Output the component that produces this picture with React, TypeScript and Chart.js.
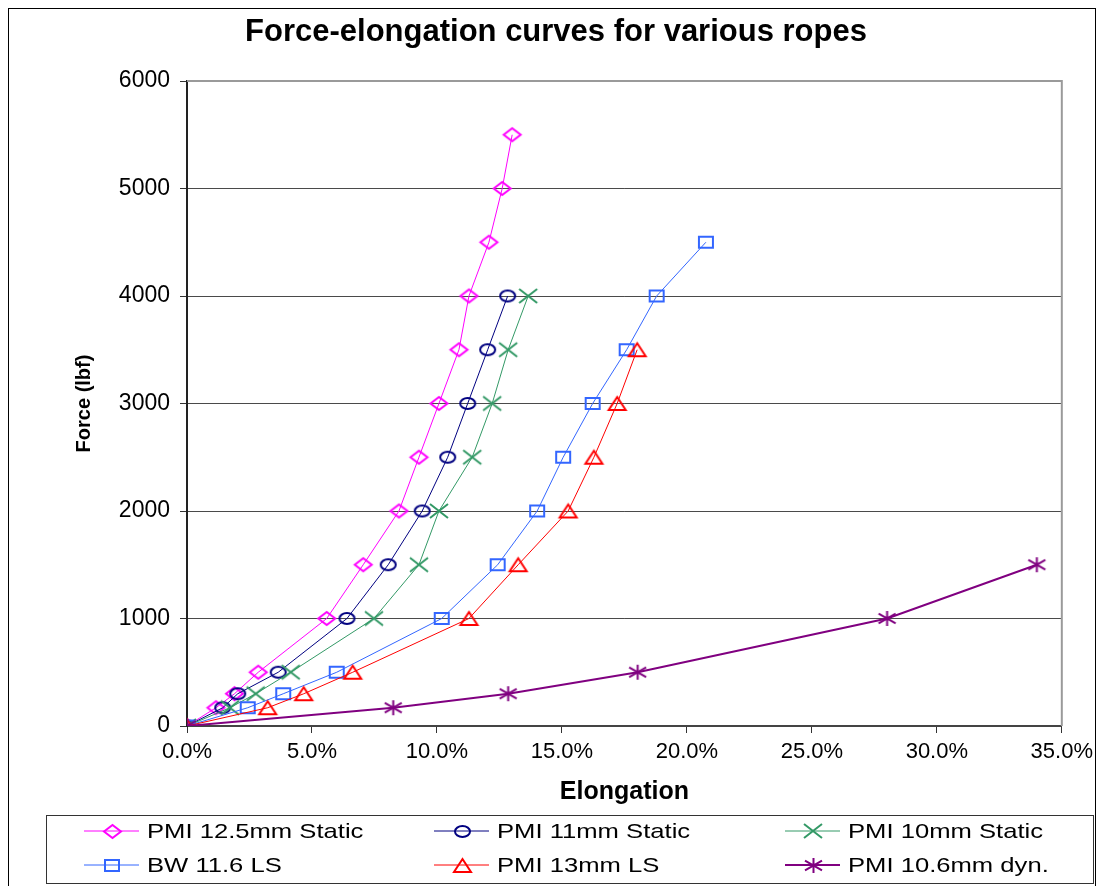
import React, { useEffect, useRef } from 'react';
import { Chart, registerables } from 'chart.js';

Chart.register(...registerables);

const FONT = '"Liberation Sans", Arial, sans-serif';

// Force levels (lbf) shared by all series
const forcesLbf = [0, 170, 300, 500, 1000, 1500, 2000, 2500, 3000, 3500, 4000, 4500, 5000, 5500];

// Elongation (%) for each rope at the force levels above
const pmi125StaticElong = [0, 1.16, 1.9, 2.85, 5.59, 7.05, 8.48, 9.28, 10.08, 10.88, 11.28, 12.08, 12.61, 13.01];
const pmi11StaticElong = [0, 1.43, 2.03, 3.65, 6.4, 8.05, 9.41, 10.43, 11.23, 12.03, 12.83];
const pmi10StaticElong = [0, 1.72, 2.75, 4.15, 7.48, 9.28, 10.08, 11.41, 12.21, 12.85, 13.65];
const bw116LsElong = [0, 2.43, 3.85, 5.99, 10.19, 12.43, 14.01, 15.05, 16.23, 17.59, 18.79, 20.76];
const pmi13LsElong = [0, 3.23, 4.67, 6.63, 11.28, 13.25, 15.25, 16.28, 17.21, 18.01];
const pmi106DynElong = [0, 8.25, 12.85, 18.03, 28.01, 34.0];

const seriesLabels = [
  'PMI 12.5mm Static',
  'PMI 11mm Static',
  'PMI 10mm Static',
  'BW 11.6 LS',
  'PMI 13mm LS',
  'PMI 10.6mm dyn.',
];
const seriesElong = [pmi125StaticElong, pmi11StaticElong, pmi10StaticElong, bw116LsElong, pmi13LsElong, pmi106DynElong];
const seriesColors = ['#FF00FF', '#000080', '#339966', '#3366FF', '#FF0000', '#800080'];
const seriesMarkers = ['diamond', 'ellipse', 'x', 'square', 'triangle', 'asterisk'];
const markerW = [19, 17, 18, 16, 19, 17];
const markerH = [15, 13, 14, 13, 15, 15];
const lineWidths = [1, 1, 1, 1, 1, 2];

const chartTitle = 'Force-elongation curves for various ropes';
const xTitle = 'Elongation';
const yTitle = 'Force (lbf)';

function makeMarker(style: string, color: string, w: number, h: number): HTMLCanvasElement {
  const W = Math.ceil(w) + 4;
  const H = Math.ceil(h) + 4;
  const c = document.createElement('canvas');
  c.width = W;
  c.height = H;
  const ctx = c.getContext('2d') as CanvasRenderingContext2D;
  const cx = W / 2;
  const cy = H / 2;
  const hw = w / 2;
  const hh = h / 2;
  ctx.strokeStyle = color;
  ctx.lineWidth = 2;
  ctx.beginPath();
  switch (style) {
    case 'ellipse':
      ctx.ellipse(cx, cy, hw - 1, hh - 1, 0, 0, Math.PI * 2);
      break;
    case 'diamond':
      ctx.moveTo(cx - hw + 1, cy);
      ctx.lineTo(cx, cy - hh + 1);
      ctx.lineTo(cx + hw - 1, cy);
      ctx.lineTo(cx, cy + hh - 1);
      ctx.closePath();
      break;
    case 'square':
      ctx.rect(cx - hw + 1, cy - hh + 1, w - 2, h - 2);
      break;
    case 'triangle':
      ctx.moveTo(cx, cy - hh + 1);
      ctx.lineTo(cx + hw - 1, cy + hh - 1);
      ctx.lineTo(cx - hw + 1, cy + hh - 1);
      ctx.closePath();
      break;
    case 'x':
      ctx.moveTo(cx - hw, cy - hh);
      ctx.lineTo(cx + hw, cy + hh);
      ctx.moveTo(cx - hw, cy + hh);
      ctx.lineTo(cx + hw, cy - hh);
      break;
    case 'asterisk':
      ctx.moveTo(cx, cy - hh);
      ctx.lineTo(cx, cy + hh);
      ctx.moveTo(cx - hw, cy - hh * 0.65);
      ctx.lineTo(cx + hw, cy + hh * 0.65);
      ctx.moveTo(cx - hw, cy + hh * 0.65);
      ctx.lineTo(cx + hw, cy - hh * 0.65);
      break;
  }
  ctx.stroke();
  return c;
}

const framePlugin = {
  id: 'frame',
  beforeDraw(chart: any) {
    const ctx = chart.ctx as CanvasRenderingContext2D;
    ctx.save();
    ctx.fillStyle = '#ffffff';
    ctx.fillRect(0, 0, chart.width, chart.height);
    ctx.strokeStyle = '#000000';
    ctx.lineWidth = 1;
    ctx.strokeRect(8.5, 8.5, 1087, 900);
    ctx.restore();
  },
  beforeDatasetsDraw(chart: any) {
    const { ctx, chartArea } = chart;
    ctx.save();
    ctx.strokeStyle = '#9a9a9a';
    ctx.lineWidth = 2;
    ctx.beginPath();
    ctx.moveTo(chartArea.left, chartArea.top);
    ctx.lineTo(chartArea.right, chartArea.top);
    ctx.lineTo(chartArea.right, chartArea.bottom);
    ctx.stroke();
    ctx.restore();
  },
};

const legendPlugin = {
  id: 'gridLegend',
  afterDraw(chart: any) {
    const ctx = chart.ctx as CanvasRenderingContext2D;
    const boxL = 46, boxT = 815, boxR = 1093, boxB = 883;
    const colX = [84, 434, 785];
    const rowY = [831, 865];
    ctx.save();
    ctx.strokeStyle = '#333333';
    ctx.lineWidth = 1;
    ctx.strokeRect(boxL + 0.5, boxT + 0.5, boxR - boxL, boxB - boxT);
    chart.data.datasets.forEach((ds: any, i: number) => {
      const x = colX[i % 3];
      const y = rowY[Math.floor(i / 3)];
      ctx.strokeStyle = ds.borderColor;
      ctx.lineWidth = ds.borderWidth;
      ctx.beginPath();
      ctx.moveTo(x, y);
      ctx.lineTo(x + 55, y);
      ctx.stroke();
      const img = ds.pointStyle as HTMLCanvasElement;
      ctx.drawImage(img, Math.round(x + 28 - img.width / 2), Math.round(y - img.height / 2));
      ctx.save();
      ctx.translate(x + 63, y);
      ctx.scale(1.22, 1);
      ctx.fillStyle = '#000000';
      ctx.font = `21px ${FONT}`;
      ctx.textBaseline = 'middle';
      ctx.textAlign = 'left';
      ctx.fillText(ds.label, 0, 1);
      ctx.restore();
    });
    ctx.restore();
  },
};

export default function App() {
  const canvasRef = useRef<HTMLCanvasElement | null>(null);

  useEffect(() => {
    const canvas = canvasRef.current;
    if (!canvas) return;
    const datasets = seriesLabels.map((label, i) => ({
      label,
      data: seriesElong[i].map((e, j) => ({ x: e, y: forcesLbf[j] })),
      borderColor: seriesColors[i],
      backgroundColor: 'rgba(0,0,0,0)',
      borderWidth: lineWidths[i],
      pointStyle: makeMarker(seriesMarkers[i], seriesColors[i], markerW[i], markerH[i]),
      pointRadius: 8,
      pointBorderColor: seriesColors[i],
      pointBackgroundColor: 'rgba(0,0,0,0)',
      pointBorderWidth: 2,
      showLine: true,
      tension: 0,
      order: seriesLabels.length - i,
    }));

    const chart = new Chart(canvas, {
      type: 'scatter',
      data: { datasets },
      plugins: [framePlugin, legendPlugin],
      options: {
        animation: false,
        responsive: false,
        devicePixelRatio: 1,
        events: [],
        layout: { padding: { left: 50, right: 37, top: 0, bottom: 60 } },
        plugins: {
          legend: { display: false },
          tooltip: { enabled: false },
          title: {
            display: true,
            text: chartTitle,
            color: '#000000',
            font: { family: FONT, size: 31, weight: 'bold', lineHeight: 1.2 },
            padding: { top: 14, bottom: 29.8 },
          },
        },
        scales: {
          x: {
            type: 'linear',
            min: 0,
            max: 35,
            afterFit(scale: any) {
              scale.height = 100;
            },
            ticks: {
              stepSize: 5,
              color: '#000000',
              padding: 6,
              font: { family: FONT, size: 22 },
              callback: (v: any) => Number(v).toFixed(1) + '%',
              maxRotation: 0,
            },
            grid: {
              drawOnChartArea: false,
              drawTicks: true,
              tickLength: 7,
              color: '#333333',
              tickColor: '#333333',
            },
            border: { display: true, color: '#444444', width: 2 },
            title: {
              display: true,
              text: xTitle,
              color: '#000000',
              font: { family: FONT, size: 25, weight: 'bold', lineHeight: 1.2 },
              padding: { top: 0, bottom: 19 },
            },
          },
          y: {
            type: 'linear',
            min: 0,
            max: 6000,
            afterFit(scale: any) {
              scale.width = 137;
            },
            ticks: {
              stepSize: 1000,
              color: '#000000',
              padding: 10,
              font: { family: FONT, size: 23 },
              callback: (v: any) => String(v),
            },
            grid: {
              drawTicks: true,
              tickLength: 7,
              color: (c: any) => (c.tick && c.tick.value === 6000 ? 'rgba(0,0,0,0)' : '#4a4a4a'),
              tickColor: '#333333',
              lineWidth: 1,
            },
            border: { display: true, color: '#222222', width: 2 },
            title: {
              display: true,
              text: yTitle,
              color: '#000000',
              font: { family: FONT, size: 20, weight: 'bold', lineHeight: 1.2 },
              padding: { top: 22, bottom: 0 },
            },
          },
        },
      },
    } as any);

    return () => {
      chart.destroy();
    };
  }, []);

  return (
    <div style={{ position: 'fixed', left: 0, top: 0, width: 1099, height: 886, background: '#ffffff' }}>
      <canvas ref={canvasRef} width={1099} height={886} style={{ display: 'block', width: 1099, height: 886 }} />
    </div>
  );
}
